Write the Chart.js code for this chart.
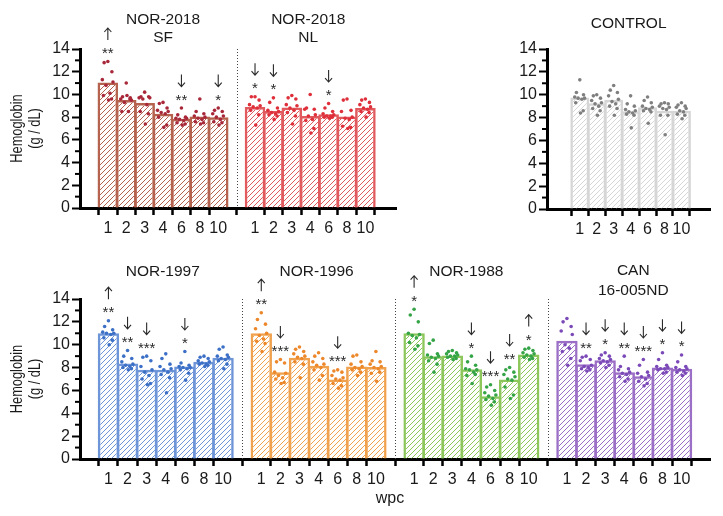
<!DOCTYPE html>
<html>
<head>
<meta charset="utf-8">
<script src="https://cdn.jsdelivr.net/npm/chart.js@4.4.1/dist/chart.umd.min.js"></script>
<style>
html, body { margin: 0; padding: 0; background: #fff; }
#wrap { position: relative; width: 723px; height: 516px; overflow: hidden; }
canvas { position: absolute; }
</style>
</head>
<body>
<div id="wrap">
    <canvas id="chartTop" width="420" height="250" style="left:0;top:0;width:420px;height:250px"></canvas>
    <canvas id="chartControl" width="273" height="250" style="left:450px;top:0;width:273px;height:250px"></canvas>
    <canvas id="chartBottom" width="723" height="266" style="left:0;top:250px;width:723px;height:266px"></canvas>
</div>
<script>
// weeks post challenge (x tick labels)
const weeks = ['1', '2', '3', '4', '6', '8', '10'];

// NOR-2018 SF
const sfMeans = [11.05, 9.5, 9.25, 8.3, 7.85, 8.05, 8.0];
const sfPoints = [
    [12.9, 12.8, 12.0, 11.3, 11.1, 10.8, 10.1, 9.9, 9.6, 9.5],
    [11.0, 9.8, 9.7, 9.6, 9.5, 9.3, 8.5, 8.5, 9.6, 9.9],
    [10.2, 9.8, 9.8, 9.7, 9.7, 9.6, 9.1, 8.5, 8.3, 7.4],
    [9.3, 9.2, 8.8, 8.6, 8.5, 8.4, 8.3, 8.0, 7.3, 7.1],
    [8.8, 8.2, 8.0, 7.9, 7.9, 7.8, 7.7, 7.5, 7.4, 7.3],
    [9.6, 8.5, 8.3, 8.1, 8.0, 7.9, 7.8, 7.6, 7.5, 7.4],
    [8.8, 8.6, 8.5, 8.3, 8.1, 8.0, 7.8, 7.6, 7.5, 7.3]
];
const sfMarks = ['↑**', '', '', '', '↓**', '', '↓*'];

// NOR-2018 NL
const nlMeans = [8.9, 8.55, 8.85, 8.1, 8.25, 8.05, 8.8];
const nlPoints = [
    [9.8, 9.8, 9.5, 9.1, 9.0, 8.9, 8.8, 8.6, 8.2, 7.3],
    [9.7, 9.3, 8.8, 8.6, 8.5, 8.4, 8.3, 8.2, 8.1, 7.8],
    [9.9, 9.7, 9.6, 9.1, 9.0, 8.8, 8.6, 8.4, 8.1, 7.4],
    [10.0, 8.8, 8.7, 8.7, 8.2, 8.1, 7.8, 7.7, 7.0, 6.6],
    [9.2, 8.8, 8.5, 8.3, 8.2, 8.1, 8.1, 8.0, 8.0, 7.9],
    [9.6, 9.5, 8.6, 8.5, 8.0, 7.9, 7.8, 7.2, 7.1, 7.0],
    [9.6, 9.5, 9.3, 9.1, 8.9, 8.8, 8.7, 8.5, 8.4, 8.0]
];
const nlMarks = ['↓*', '↓*', '', '', '↓*', '', ''];

// CONTROL
const controlMeans = [9.75, 9.25, 9.55, 8.55, 8.9, 8.6, 8.6];
const controlPoints = [
    [11.3, 10.2, 10.0, 9.8, 9.7, 9.7, 9.6, 9.3, 8.6, 8.4],
    [10.0, 9.9, 9.7, 9.5, 9.3, 9.2, 9.0, 8.8, 8.6, 8.2],
    [10.8, 10.4, 10.2, 9.9, 9.6, 9.4, 9.2, 9.0, 8.8, 8.2],
    [9.9, 9.2, 9.0, 8.7, 8.6, 8.5, 8.4, 8.3, 8.2, 7.1],
    [9.8, 9.5, 9.3, 9.0, 8.9, 8.8, 8.7, 8.6, 8.5, 7.5],
    [9.3, 9.2, 9.2, 9.0, 8.9, 8.8, 8.7, 8.2, 8.2, 6.5],
    [9.3, 9.1, 9.0, 8.9, 8.8, 8.6, 8.5, 8.3, 8.2, 7.9]
];
const controlMarks = ['', '', '', '', '', '', ''];

// NOR-1997
const n97Means = [11.0, 8.35, 7.8, 7.8, 8.1, 8.5, 8.85];
const n97Points = [
    [12.1, 11.6, 11.3, 11.1, 11.0, 11.0, 10.9, 10.6, 10.4, 10.0],
    [9.5, 9.0, 8.8, 8.5, 8.3, 8.2, 8.1, 8.0, 7.9, 7.8],
    [9.0, 8.9, 8.6, 8.1, 7.8, 7.6, 7.3, 7.0, 6.6, 6.5],
    [9.2, 8.8, 8.3, 8.1, 7.9, 7.8, 7.6, 7.4, 7.1, 5.8],
    [9.4, 8.4, 8.2, 8.1, 8.0, 8.0, 7.9, 7.8, 7.5, 6.9],
    [9.0, 8.9, 8.8, 8.6, 8.5, 8.4, 8.3, 8.3, 8.2, 8.1],
    [9.8, 9.6, 9.1, 9.0, 8.9, 8.8, 8.7, 8.6, 8.3, 7.9]
];
const n97Marks = ['↑**', '↓**', '↓***', '', '↓*', '', ''];

// NOR-1996
const n96Means = [11.0, 7.6, 8.85, 8.15, 6.95, 8.1, 8.05];
const n96Points = [
    [12.8, 12.2, 11.8, 11.4, 11.0, 10.8, 10.5, 10.3, 10.1, 9.4],
    [8.7, 8.5, 8.4, 7.6, 7.5, 7.3, 7.1, 7.0, 6.7, 6.6],
    [9.8, 9.6, 9.4, 9.2, 9.0, 8.9, 8.8, 8.5, 8.3, 7.1],
    [9.3, 9.0, 8.8, 8.5, 8.3, 8.2, 8.0, 7.8, 7.3, 6.9],
    [7.8, 7.7, 7.6, 7.3, 7.1, 7.0, 6.9, 6.6, 6.4, 6.2],
    [9.1, 9.0, 8.5, 8.3, 8.1, 8.0, 7.9, 7.8, 7.6, 7.3],
    [9.4, 8.6, 8.5, 8.3, 8.1, 8.0, 7.9, 7.5, 7.6, 6.8]
];
const n96Marks = ['↑**', '↓***', '', '', '↓***', '', ''];

// NOR-1988
const n88Means = [11.0, 9.0, 9.05, 7.85, 5.5, 6.95, 9.15];
const n88Points = [
    [13.1, 12.6, 12.0, 11.0, 10.9, 10.8, 10.6, 10.2, 9.9, 9.6],
    [10.4, 10.1, 9.2, 9.1, 9.0, 8.9, 8.8, 8.6, 8.3, 7.6],
    [9.5, 9.4, 9.3, 9.2, 9.1, 9.0, 9.0, 8.9, 8.8, 8.7],
    [9.0, 8.5, 8.2, 7.9, 7.8, 7.8, 7.6, 7.3, 7.4, 6.6],
    [6.5, 6.3, 6.0, 5.8, 5.6, 5.5, 5.3, 5.2, 5.0, 4.7],
    [8.0, 7.8, 7.6, 7.4, 7.2, 7.0, 6.9, 6.3, 5.6, 5.3],
    [9.7, 9.6, 9.5, 9.3, 9.2, 9.1, 9.0, 8.9, 8.8, 8.7]
];
const n88Marks = ['↑*', '', '', '↓*', '↓***', '↓**', '↑*'];

// CAN 16-005ND
const canMeans = [10.35, 8.3, 8.65, 7.6, 7.25, 8.0, 7.9];
const canPoints = [
    [12.3, 12.0, 11.6, 11.2, 10.9, 10.0, 9.7, 9.4, 8.8, 8.2],
    [9.0, 8.9, 8.7, 8.6, 8.2, 8.1, 8.0, 7.9, 7.8, 7.7],
    [9.3, 9.1, 9.0, 8.8, 8.7, 8.6, 8.5, 8.4, 8.2, 8.0],
    [9.0, 8.1, 7.9, 7.8, 7.6, 7.5, 7.4, 7.2, 7.0, 6.8],
    [8.7, 8.2, 7.6, 7.5, 7.3, 7.2, 7.0, 6.8, 6.6, 6.4],
    [9.3, 8.7, 8.2, 8.1, 8.0, 7.9, 7.9, 7.8, 7.6, 7.5],
    [9.1, 8.5, 8.1, 8.0, 7.9, 7.8, 7.7, 7.6, 7.5, 7.3]
];
const canMarks = ['', '↓**', '↓*', '↓**', '↓***', '↓*', '↓*'];

// horizontal spread of the dots inside a bar (layout only)
const JITTER = [0.0, -0.2, 0.22, -0.3, 0.28, -0.1, 0.12, -0.24, 0.2, 0.04];

const FONT = '"Liberation Sans", Arial, Helvetica, sans-serif';
const TEXT = '#1a1a1a';

function hatch(color) {
    const c = document.createElement('canvas');
    c.width = 5;
    c.height = 5;
    const g = c.getContext('2d');
    g.strokeStyle = color;
    g.lineWidth = 1;
    g.beginPath();
    g.moveTo(0, 5); g.lineTo(5, 0);
    g.moveTo(-1, 1); g.lineTo(1, -1);
    g.moveTo(4, 6); g.lineTo(6, 4);
    g.stroke();
    return g.createPattern(c, 'repeat');
}

const decorPlugin = {
    id: 'decor',
    afterDraw(chart, args, o) {
        const ctx = chart.ctx;
        const x = chart.scales.x;
        const y = chart.scales.y;
        const area = chart.chartArea;
        ctx.save();

        // minor ticks on y axis
        ctx.strokeStyle = '#000';
        ctx.lineWidth = 2;
        for (let v = 1; v < 14; v += 2) {
            const py = y.getPixelForValue(v);
            ctx.beginPath();
            ctx.moveTo(area.left - 5, py);
            ctx.lineTo(area.left, py);
            ctx.stroke();
        }

        // dotted separators between panels
        ctx.setLineDash([1, 2]);
        ctx.strokeStyle = '#444';
        ctx.lineWidth = 1;
        o.dividers.forEach(d => {
            const px = Math.round(x.getPixelForValue(d)) + 0.5;
            ctx.beginPath();
            ctx.moveTo(px, area.top);
            ctx.lineTo(px, area.bottom);
            ctx.stroke();
        });
        ctx.setLineDash([]);

        // panel titles
        ctx.fillStyle = TEXT;
        ctx.font = '15.5px ' + FONT;
        ctx.textAlign = 'center';
        ctx.textBaseline = 'middle';
        o.panels.forEach(p => {
            const cx = x.getPixelForValue(p.start + 3) + (p.titleDx || 0);
            p.title.forEach((t, k) => ctx.fillText(t, cx, p.titleY[k]));
        });

        // significance marks
        o.panels.forEach(p => {
            p.marks.forEach((m, i) => {
                if (!m) return;
                const cx = x.getPixelForValue(p.start + i);
                const sy = y.getPixelForValue(Math.max(...p.points[i]) + 1.1);
                ctx.fillStyle = '#2a2a2a';
                ctx.font = '15px ' + FONT;
                ctx.textBaseline = 'alphabetic';
                ctx.fillText(m.slice(1), cx, sy + 9);
                const top = sy - 21, bot = sy - 9;
                ctx.strokeStyle = '#2a2a2a';
                ctx.lineWidth = 1.1;
                ctx.beginPath();
                ctx.moveTo(cx, top);
                ctx.lineTo(cx, bot);
                if (m[0] === '↑') {
                    ctx.moveTo(cx - 3.5, top + 4); ctx.lineTo(cx, top); ctx.lineTo(cx + 3.5, top + 4);
                } else {
                    ctx.moveTo(cx - 3.5, bot - 4); ctx.lineTo(cx, bot); ctx.lineTo(cx + 3.5, bot - 4);
                }
                ctx.stroke();
            });
        });

        // y axis title
        if (o.yTitle) {
            const cy = (area.top + area.bottom) / 2;
            ctx.fillStyle = TEXT;
            ctx.font = '16px ' + FONT;
            ctx.textAlign = 'center';
            ctx.textBaseline = 'middle';
            [['Hemoglobin', 18], ['(g / dL)', 36]].forEach(([t, px]) => {
                ctx.save();
                ctx.translate(px, cy);
                ctx.rotate(-Math.PI / 2);
                ctx.scale(0.8, 1);
                ctx.fillText(t, 0, 0);
                ctx.restore();
            });
        }

        // x axis title
        if (o.xTitle) {
            ctx.fillStyle = TEXT;
            ctx.font = '16px ' + FONT;
            ctx.textAlign = 'center';
            ctx.textBaseline = 'middle';
            ctx.fillText(o.xTitle.text, o.xTitle.x, o.xTitle.y);
        }
        ctx.restore();
    }
};

function buildDatasets(panels) {
    const sets = [];
    panels.forEach(p => {
        sets.push({
            type: 'scatter',
            data: p.points.flatMap((arr, i) => arr.map((v, k) => ({ x: p.start + i + JITTER[k], y: v }))),
            backgroundColor: p.dot,
            borderWidth: 0,
            pointRadius: 1.8,
            order: 1
        });
        sets.push({
            type: 'bar',
            data: p.means.map((v, i) => ({ x: p.start + i, y: v })),
            backgroundColor: hatch(p.bar),
            borderColor: p.bar,
            borderWidth: 2.5,
            grouped: false,
            barPercentage: 1.12,
            categoryPercentage: 1,
            order: 2
        });
    });
    return sets;
}

function makeChart(canvasId, panels, xMin, xMax, padding, decor) {
    const positions = panels.flatMap(p => p.means.map((v, i) => p.start + i));
    return new Chart(document.getElementById(canvasId), {
        type: 'bar',
        data: { datasets: buildDatasets(panels) },
        options: {
            responsive: false,
            animation: false,
            events: [],
            layout: { padding: padding },
            plugins: {
                legend: { display: false },
                tooltip: { enabled: false },
                decor: { panels: panels, ...decor }
            },
            scales: {
                x: {
                    type: 'linear',
                    min: xMin,
                    max: xMax,
                    z: 1,
                    afterBuildTicks: s => { s.ticks = positions.map(v => ({ value: v })); },
                    afterFit: s => { s.height = 30; },
                    ticks: {
                        autoSkip: false,
                        maxRotation: 0,
                        padding: 4,
                        color: TEXT,
                        font: { family: FONT, size: 16 },
                        callback: v => weeks[Math.round(v) % 8]
                    },
                    grid: { drawOnChartArea: false, tickLength: 7, tickColor: '#000', tickWidth: 2.5 },
                    border: { color: '#000', width: 3 }
                },
                y: {
                    min: 0,
                    max: 14,
                    z: 1,
                    afterFit: s => { s.width = 40; },
                    ticks: {
                        stepSize: 2,
                        padding: 2,
                        color: TEXT,
                        font: { family: FONT, size: 16 }
                    },
                    grid: { drawOnChartArea: false, tickLength: 8, tickColor: '#000', tickWidth: 2 },
                    border: { color: '#000', width: 3 }
                }
            }
        },
        plugins: [decorPlugin]
    });
}

const topPanels = [
    { title: ['NOR-2018', 'SF'], titleY: [19.5, 37.5], start: 0, means: sfMeans, points: sfPoints, marks: sfMarks, bar: '#b5634f', dot: '#a8283a' },
    { title: ['NOR-2018', 'NL'], titleY: [19.5, 37.5], start: 8, means: nlMeans, points: nlPoints, marks: nlMarks, bar: '#e05a5e', dot: '#de2f3a', titleDx: -2 }
];
const controlPanels = [
    { title: ['CONTROL'], titleY: [24], start: 0, means: controlMeans, points: controlPoints, marks: controlMarks, bar: '#d6d6d6', dot: '#7f7f7f', titleDx: -2 }
];
const bottomPanels = [
    { title: ['NOR-1997'], titleY: [21.5], start: 0, means: n97Means, points: n97Points, marks: n97Marks, bar: '#6e95d8', dot: '#3c6fc6', titleDx: -3 },
    { title: ['NOR-1996'], titleY: [21.5], start: 8, means: n96Means, points: n96Points, marks: n96Marks, bar: '#f0a24e', dot: '#ec872a', titleDx: -2 },
    { title: ['NOR-1988'], titleY: [21.5], start: 16, means: n88Means, points: n88Points, marks: n88Marks, bar: '#8dc75c', dot: '#34a447', titleDx: -5 },
    { title: ['CAN', '16-005ND'], titleY: [21, 41], start: 24, means: canMeans, points: canPoints, marks: canMarks, bar: '#9c6fc6', dot: '#7b4ab8', titleDx: 9 }
];

makeChart('chartTop', topPanels, -0.9, 15.05, { left: 40, right: 24, top: 49, bottom: 12 },
    { dividers: [7], yTitle: true });
makeChart('chartControl', controlPanels, -1.25, 7.0, { left: 57, right: 13, top: 49, bottom: 11 },
    { dividers: [], yTitle: false });
makeChart('chartBottom', bottomPanels, -0.9, 30.9, { left: 40, right: 13, top: 49, bottom: 27 },
    { dividers: [7, 15, 23], yTitle: true, xTitle: { text: 'wpc', x: 390, y: 249 } });
</script>
</body>
</html>
